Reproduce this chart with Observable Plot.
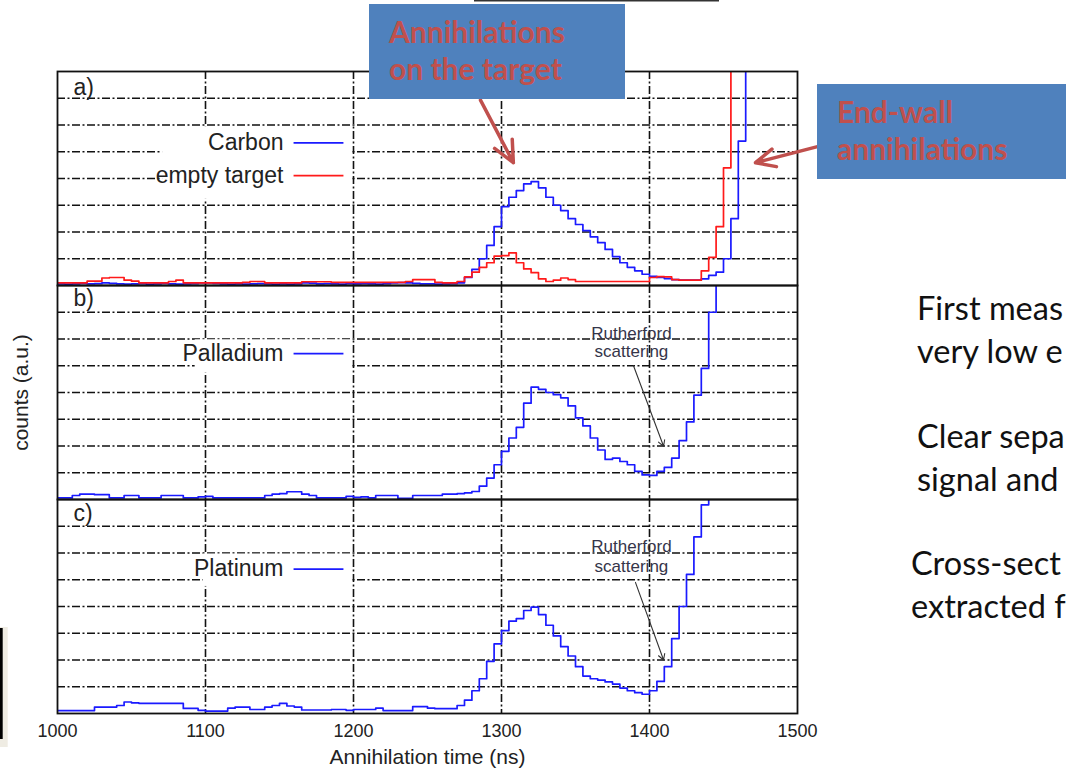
<!DOCTYPE html>
<html>
<head>
<meta charset="utf-8">
<script src="https://cdn.jsdelivr.net/npm/d3@7"></script>
<script src="https://cdn.jsdelivr.net/npm/@observablehq/plot@0.6"></script>
<style>
  html, body { margin: 0; padding: 0; background: #fff; overflow: hidden; }
  #wrap { position: relative; width: 1066px; height: 768px; overflow: hidden; }
  #wrap svg { position: absolute; left: 0; top: 0; }
</style>
</head>
<body>
<div id="wrap"></div>
<script>
// ---------------- data ----------------
const binStart = 1000;   // ns, start of first histogram bin
const binWidth = 5;      // ns per bin
const xTicks = [1000, 1100, 1200, 1300, 1400, 1500];
const gridXTicks = [1100, 1200, 1300, 1400];
const gridYTicks = [1, 2, 3, 4, 5, 6, 7];
const panels = ["a", "b", "c"];
const panelLabels = ["a)", "b)", "c)"];

// counts (a.u., 1 unit = one horizontal grid division), bins from 1000 ns
const carbon = [
  0.06,0.05,0.06,0.08,0.06,0.07,0.10,0.08,0.06,0.05,
  0.06,0.07,0.05,0.06,0.08,0.06,0.05,0.06,0.07,0.10,
  0.10,0.08,0.06,0.05,0.06,0.05,0.06,0.07,0.06,0.05,
  0.06,0.05,0.06,0.10,0.09,0.06,0.07,0.06,0.05,0.07,
  0.06,0.07,0.06,0.05,0.07,0.10,0.11,0.10,0.08,0.06,
  0.06,0.05,0.06,0.07,
  0.10,0.30,0.60,1.00,1.50,2.20,2.95,3.30,3.55,3.80,
  3.88,3.65,3.30,3.00,2.80,2.50,2.28,2.05,1.82,1.60,
  1.35,1.08,0.85,0.68,0.55,0.42,0.34,0.30,0.26,0.22,
  0.20,0.20,0.20,0.25,0.38,0.50,1.00,2.50,5.40,12
];
const emptyTarget = [
  0.10,0.10,0.10,0.10,0.16,0.16,0.28,0.30,0.30,0.20,
  0.16,0.10,0.10,0.10,0.10,0.15,0.20,0.10,0.10,0.10,
  0.10,0.10,0.10,0.10,0.10,0.12,0.15,0.15,0.10,0.10,
  0.10,0.10,0.10,0.14,0.14,0.14,0.14,0.12,0.12,0.12,
  0.12,0.12,0.12,0.12,0.12,0.12,0.12,0.15,0.22,0.22,
  0.22,0.12,0.10,0.10,
  0.15,0.32,0.50,0.68,0.85,1.10,1.12,1.22,0.85,0.62,
  0.48,0.25,0.15,0.20,0.28,0.22,0.15,0.15,0.15,0.15,
  0.15,0.15,0.15,0.15,0.15,0.15,0.30,0.33,0.32,0.22,
  0.20,0.20,0.20,0.55,1.05,2.20,4.40,12
];
const palladium = [
  0.06,0.06,0.15,0.20,0.20,0.18,0.18,0.06,0.06,0.15,
  0.15,0.06,0.06,0.06,0.15,0.15,0.15,0.06,0.06,0.10,
  0.12,0.06,0.06,0.06,0.06,0.06,0.06,0.06,0.15,0.20,
  0.22,0.29,0.29,0.20,0.15,0.06,0.06,0.06,0.06,0.12,
  0.08,0.10,0.06,0.15,0.15,0.15,0.04,0.04,0.15,0.15,
  0.15,0.15,0.20,0.20,
  0.22,0.25,0.30,0.50,0.80,1.30,1.80,2.30,2.70,3.60,
  4.20,4.12,4.00,3.92,3.80,3.50,3.05,2.75,2.30,1.85,
  1.50,1.55,1.42,1.30,1.05,0.92,0.90,1.05,1.20,1.55,
  2.20,2.90,3.90,4.90,7.00,12
];
const platinum = [
  0.11,0.11,0.11,0.11,0.11,0.24,0.24,0.24,0.30,0.43,
  0.40,0.38,0.38,0.38,0.38,0.38,0.38,0.19,0.19,0.12,
  0.09,0.09,0.09,0.20,0.24,0.24,0.15,0.15,0.24,0.30,
  0.38,0.28,0.24,0.13,0.13,0.13,0.13,0.15,0.15,0.12,
  0.15,0.15,0.15,0.20,0.11,0.11,0.11,0.11,0.26,0.26,
  0.20,0.18,0.18,0.18,
  0.30,0.50,0.85,1.30,1.95,2.60,3.10,3.45,3.55,3.85,
  3.98,3.70,3.30,2.90,2.50,2.15,1.75,1.40,1.30,1.25,
  1.18,1.10,0.95,0.85,0.78,0.72,0.85,1.20,1.75,2.80,
  4.00,5.20,6.60,7.80,12
];

const seriesNames = ["Carbon", "empty target", "Palladium", "Platinum"];
const seriesPanels = ["a", "a", "b", "c"];
const seriesColors = ["#1a1aff", "#ff1a1a", "#1a1aff", "#1a1aff"];
const seriesValues = [carbon, emptyTarget, palladium, platinum];

// legend entries (panel, label, legend row height in a.u.)
const legendLabels = ["Carbon", "empty target", "Palladium", "Platinum"];
const legendPanels = ["a", "a", "b", "c"];
const legendRowY = [5.33, 4.11, 5.45, 5.40];

// annotation texts
const rutherfordLines = ["Rutherford", "scattering"];

// slide texts (as visible in the cropped slide)
const boxTarget = ["Annihilations", "on the target"];
const boxWall = ["End-wall", "annihilations"];
const bulletLines = ["First meas", "very low e", "Clear sepa", "signal and", "Cross-sect", "extracted f"];

// ---------------- build tables ----------------
const rows = [];
seriesValues.forEach((vals, s) => {
  vals.forEach((v, i) => rows.push({t: binStart + i * binWidth, v, name: seriesNames[s], panel: seriesPanels[s], color: seriesColors[s]}));
});

const legend = legendLabels.map((label, i) => ({
  label, panel: legendPanels[i], y: legendRowY[i], color: seriesColors[i],
  xText: 1152.7, xl1: 1159.5, xl2: 1193.2
}));
const legendBoxes = [
  {panel: "a", x1: 1071, x2: 1198.5, y1: 3.22, y2: 5.93},
  {panel: "b", x1: 1093, x2: 1198.5, y1: 4.73, y2: 5.97},
  {panel: "c", x1: 1098.6, x2: 1198.5, y1: 4.75, y2: 5.96}
];
const panelTags = panels.map((p, i) => ({panel: p, label: panelLabels[i], x: 1010.8, y: [7.4, 7.5, 7.47][i]}));

const ruthText = [
  {panel: "b", x: 1387.8, y: 6.2, label: rutherfordLines[0]},
  {panel: "b", x: 1387.8, y: 5.53, label: rutherfordLines[1]},
  {panel: "c", x: 1387.8, y: 6.23, label: rutherfordLines[0]},
  {panel: "c", x: 1387.8, y: 5.5, label: rutherfordLines[1]}
];
const ruthArrows = [
  {panel: "b", x1: 1389.2, y1: 5.0, x2: 1409.5, y2: 1.99},
  {panel: "c", x1: 1390.5, y1: 4.9, x2: 1409.5, y2: 2.0}
];
const slideArrows = [
  {panel: "a", x1: 1285.8, y1: 6.93, x2: 1308, y2: 4.59},
  {panel: "a", x1: 1513.5, y1: 5.19, x2: 1471.6, y2: 4.59}
];

const dash = "8,2.5,2,2.5";
const chartFont = "'Liberation Sans', Arial, Helvetica, sans-serif";

const chart = Plot.plot({
  width: 1066, height: 768,
  marginLeft: 57, marginRight: 269, marginTop: 71, marginBottom: 55,
  x: {domain: [1000, 1500], ticks: xTicks, tickSize: 0, tickPadding: 11, tickFormat: d => String(d), label: null},
  y: {domain: [0, 8], axis: null},
  fy: {domain: panels, axis: null, padding: 0},
  style: {fontFamily: chartFont, fontSize: "18px", color: "#222", background: "transparent", overflow: "visible"},
  marks: [
    Plot.gridX(gridXTicks, {stroke: "#111", strokeOpacity: 1, strokeWidth: 1.6, strokeDasharray: dash}),
    Plot.gridY(gridYTicks, {stroke: "#111", strokeOpacity: 1, strokeWidth: 1.6, strokeDasharray: dash}),
    Plot.rect(legendBoxes, {x1: "x1", x2: "x2", y1: "y1", y2: "y2", fy: "panel", fill: "white"}),
    ...seriesNames.map(n => Plot.line(rows.filter(r => r.name === n), {
      x: "t", y: "v", fy: "panel", stroke: "color", strokeWidth: 1.7, curve: "step-after", clip: true
    })),
    Plot.frame({stroke: "#111", strokeWidth: 1.8}),
    Plot.text(panelTags, {x: "x", y: "y", fy: "panel", text: "label", textAnchor: "start", fontSize: 23, fill: "#222"}),
    Plot.text(legend, {x: "xText", y: "y", fy: "panel", text: "label", textAnchor: "end", fontSize: 23, fill: "#222"}),
    Plot.link(legend, {x1: "xl1", x2: "xl2", y1: "y", y2: "y", fy: "panel", stroke: "color", strokeWidth: 1.7}),
    Plot.text(ruthText, {x: "x", y: "y", fy: "panel", text: "label", fontSize: 17, fill: "#35354a", letterSpacing: "-0.4px"}),
    Plot.arrow(ruthArrows, {x1: "x1", y1: "y1", x2: "x2", y2: "y2", fy: "panel", stroke: "#333", strokeWidth: 1.1, headLength: 9}),
    Plot.arrow(slideArrows, {x1: "x1", y1: "y1", x2: "x2", y2: "y2", fy: "panel", stroke: "#C0504D", strokeWidth: 3.5, headLength: 13, headAngle: 50}),
    Plot.text([{panel: "c"}], {fy: "panel", frameAnchor: "bottom", dy: 44, lineAnchor: "middle", text: () => "Annihilation time (ns)", fontSize: 21, fill: "#222"}),
    Plot.text([{panel: "b"}], {fy: "panel", frameAnchor: "left", dx: -36, rotate: -90, textAnchor: "middle", lineAnchor: "middle", text: () => "counts (a.u.)", fontSize: 21, fill: "#222"})
  ]
});

const wrap = document.getElementById("wrap");
wrap.appendChild(chart);

// ---------------- slide overlay ----------------
const ov = d3.create("svg").attr("width", 1066).attr("height", 768).attr("viewBox", "0 0 1066 768");
ov.append("rect").attr("x", 474).attr("y", 0).attr("width", 245).attr("height", 1.5).attr("fill", "#333");
ov.append("rect").attr("x", 0).attr("y", 627).attr("width", 7.7).attr("height", 120).attr("fill", "#efece3");
ov.append("rect").attr("x", 0).attr("y", 628).attr("width", 2.7).attr("height", 111).attr("fill", "#000");

const boxFont = "Lato, 'Open Sans', sans-serif";
ov.append("rect").attr("x", 369).attr("y", 4).attr("width", 256).attr("height", 95).attr("fill", "#4F81BD");
boxTarget.forEach((t, i) => ov.append("text").attr("x", 389).attr("y", 43 + i * 37)
  .attr("font-family", boxFont).attr("font-weight", 700).attr("font-size", 30).attr("fill", "#C0504D").text(t));
ov.append("rect").attr("x", 817).attr("y", 84).attr("width", 260).attr("height", 95).attr("fill", "#4F81BD");
boxWall.forEach((t, i) => ov.append("text").attr("x", 837).attr("y", 123 + i * 37)
  .attr("font-family", boxFont).attr("font-weight", 700).attr("font-size", 30).attr("fill", "#C0504D").text(t));

const bulletX = [917, 917, 917, 917, 911, 911];
const bulletY = [320, 363, 448, 491, 575, 618];
bulletLines.forEach((t, i) => ov.append("text").attr("x", bulletX[i]).attr("y", bulletY[i])
  .attr("font-family", boxFont).attr("font-size", 32.5).attr("fill", "#111").text(t));

wrap.appendChild(ov.node());
</script>
</body>
</html>
